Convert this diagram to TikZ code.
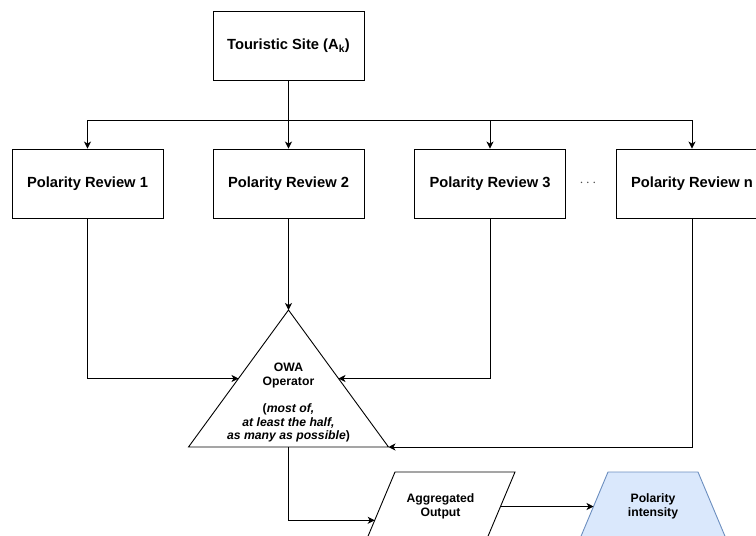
\documentclass[tikz,border=0pt]{standalone}
\usepackage{fontspec}
\setmainfont{Liberation Sans}
\usetikzlibrary{arrows.meta,calc}

\begin{document}
\begin{tikzpicture}[x=1pt,y=-1pt,line width=0.9pt,
        >={Stealth[length=7pt,width=7pt,inset=2pt]},
        block/.style={draw, minimum width=151pt, minimum height=69pt, font=\fontsize{14.7}{17}\selectfont\bfseries},
        small/.style={font=\fontsize{12.2}{13.6}\selectfont\bfseries, align=center}]
        \useasboundingbox (0,0) rectangle (756,536);

        \node[block] (site) at (288.5,46) {Touristic Site (A\textsubscript{k})};
        \node[block] (pr1) at (87.5,183.5) {Polarity Review 1};
        \node[block] (pr2) at (288.5,183.5) {Polarity Review 2};
        \node[block] (pr3) at (490,183.5) {Polarity Review 3};
        \node[block] (prn) at (692,183.5) {Polarity Review n};
        \node[text=black!70, font=\fontsize{14.7}{17}\selectfont] (dots) at (588,183) {$\cdots$};

        \coordinate (split) at (288.5,120);
        \draw[->] (site.south) -- (pr2.north);
        \draw[->] (split) -| (pr1.north);
        \draw[->] (split) -| (pr3.north);
        \draw[->] (split) -| (prn.north);

        \coordinate (owaT) at (288.5,310);
        \coordinate (owaL) at (188.5,447);
        \coordinate (owaR) at (388.5,447);
        \draw (owaT) -- (owaR) -- (owaL) -- cycle;
        \node[small] (owa) at (288.5,403) {OWA\\Operator\\[13.6pt](\textit{most of,}\\\textit{at least the half,}\\\textit{as many as possible})};

        \draw[->] (pr2.south) -- (owaT);
        \draw[->] (pr1.south) |- ($(owaT)!0.5!(owaL)$);
        \draw[->] (pr3.south) |- ($(owaT)!0.5!(owaR)$);
        \draw[->] (prn.south) |- (owaR);

        \coordinate (aggTL) at (395,472);
        \coordinate (aggTR) at (515,472);
        \coordinate (aggBR) at (486,541);
        \coordinate (aggBL) at (366,541);
        \draw (aggTL) -- (aggTR) -- (aggBR) -- (aggBL) -- cycle;
        \node[small] (agg) at (440.5,506.5) {Aggregated\\Output};

        \coordinate (polTL) at (608,472);
        \coordinate (polTR) at (698,472);
        \coordinate (polBR) at (727,541);
        \coordinate (polBL) at (579,541);
        \draw[fill={rgb,255:red,218;green,232;blue,252}, draw={rgb,255:red,108;green,142;blue,191}]
            (polTL) -- (polTR) -- (polBR) -- (polBL) -- cycle;
        \node[small] (pol) at (653,506.5) {Polarity\\intensity};

        \draw[->] ($(owaL)!0.5!(owaR)$) |- ($(aggBL)!0.3!(aggTL)$);
        \draw[->] ($(aggTR)!0.5!(aggBR)$) -- ($(polTL)!0.5!(polBL)$);
    \end{tikzpicture}
\end{document}
